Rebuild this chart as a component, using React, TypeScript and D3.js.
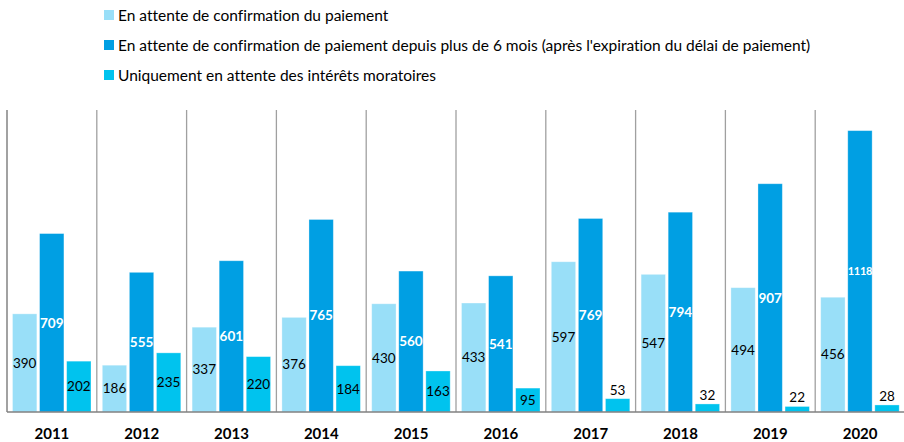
import React from "react";
import * as d3 from "d3";

const years = ["2011", "2012", "2013", "2014", "2015", "2016", "2017", "2018", "2019", "2020"];
const seriesNames = [
  "En attente de confirmation du paiement",
  "En attente de confirmation de paiement depuis plus de 6 mois (après l'expiration du délai de paiement)",
  "Uniquement en attente des intérêts moratoires",
];
const pending = [390, 186, 337, 376, 430, 433, 597, 547, 494, 456];
const pendingOver6 = [709, 555, 601, 765, 560, 541, 769, 794, 907, 1118];
const interestOnly = [202, 235, 220, 184, 163, 95, 53, 32, 22, 28];
const colors = ["#99DFF8", "#009FE3", "#00C3EE"];

const W = 904;
const H = 442;
const FONT = "Lato, 'Open Sans', sans-serif";

export default function App() {
  const seriesValues = [pending, pendingOver6, interestOnly];
  const keys = ["a", "b", "c"];
  const x0 = d3.scaleBand<string>().domain(years).range([7, 905]);
  const x1 = d3.scaleBand<string>().domain(keys).range([5.5, 84]).paddingInner(0.1);
  const y = d3.scaleLinear().domain([0, 1200]).range([412, 110]);

  return (
    <svg
      width={W}
      height={H}
      style={{ position: "absolute", left: 0, top: 0, fontFamily: FONT, fontVariantLigatures: "none" }}
    >
      {/* legend */}
      {seriesNames.map((name, i) => (
        <g key={name} transform={`translate(104, ${15 + i * 30})`}>
          <rect x={0} y={-5} width={10} height={10} fill={colors[i]} />
          <text x={14} y={5.5} fontSize={15.5} fill="#000">
            {name}
          </text>
        </g>
      ))}
      {/* dividers */}
      {years.map((yr) => (
        <line
          key={"d" + yr}
          x1={x0(yr)!}
          x2={x0(yr)!}
          y1={110}
          y2={412}
          stroke={yr === years[0] ? "#707070" : "#a0a0a0"}
          strokeWidth={1.3}
        />
      ))}
      {/* bars */}
      {years.map((yr, yi) => (
        <g key={"g" + yr} transform={`translate(${x0(yr)!},0)`}>
          {keys.map((k, si) => {
            const v = seriesValues[si][yi];
            const bx = x1(k)!;
            const bw = x1.bandwidth();
            const top = y(v);
            const h = y(0) - top;
            const small = h < 20;
            const big = v >= 1000;
            const fs = big ? 11 : 13.5;
            const ty = small ? top - 4 : top + h / 2 + fs * 0.35;
            const isDark = si === 1;
            return (
              <g key={k}>
                <rect x={bx} y={top} width={bw} height={h} fill={colors[si]} stroke="#ffffff" strokeOpacity={0.4} strokeWidth={0.8} />
                <text
                  x={bx + bw / 2}
                  y={ty}
                  textAnchor="middle"
                  fontSize={fs}
                  fontWeight={isDark ? 700 : 400}
                  fill={isDark ? "#ffffff" : "#000000"}
                  letterSpacing={big ? -0.3 : 0}
                >
                  {v}
                </text>
              </g>
            );
          })}
          <text x={x0.bandwidth() / 2} y={439} textAnchor="middle" fontSize={15} fontWeight={700} fill="#000">
            {yr}
          </text>
        </g>
      ))}
      {/* baseline */}
      <line x1={7} x2={905} y1={412} y2={412} stroke="#808080" strokeWidth={1.3} />
    </svg>
  );
}
